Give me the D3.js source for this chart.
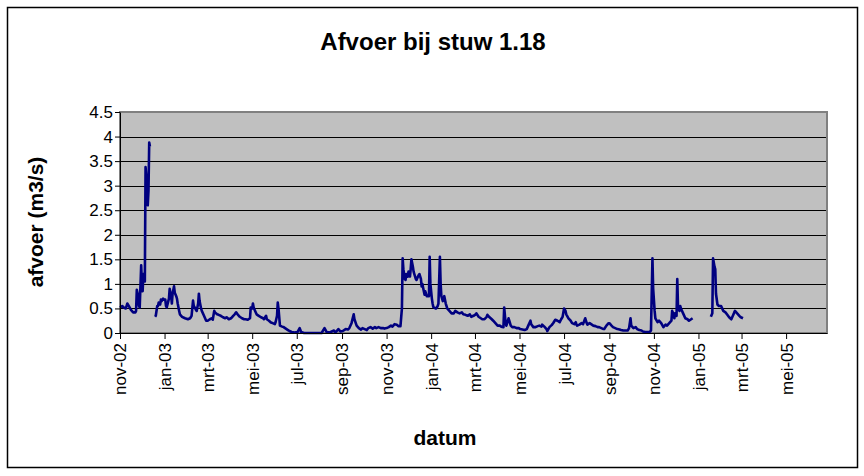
<!DOCTYPE html>
<html>
<head>
<meta charset="utf-8">
<script src="https://cdn.jsdelivr.net/npm/d3@7"></script>
<style>
  body { margin: 0; background: #fff; }
  svg text { font-family: Arial, "Liberation Sans", sans-serif; fill: #000; }
</style>
</head>
<body>
<svg id="chart" width="864" height="476"></svg>
<script>
const chartTitle = "Afvoer bij stuw 1.18";
const xTitle = "datum";
const yTitle = "afvoer (m3/s)";

const tickDates = ["2002-11-01", "2003-01-01", "2003-03-01", "2003-05-01", "2003-07-01", "2003-09-01",
  "2003-11-01", "2004-01-01", "2004-03-01", "2004-05-01", "2004-07-01", "2004-09-01",
  "2004-11-01", "2005-01-01", "2005-03-01", "2005-05-01"];
const tickLabels = ["nov-02", "jan-03", "mrt-03", "mei-03", "jul-03", "sep-03", "nov-03", "jan-04",
  "mrt-04", "mei-04", "jul-04", "sep-04", "nov-04", "jan-05", "mrt-05", "mei-05"];
const yTicks = [0, 0.5, 1, 1.5, 2, 2.5, 3, 3.5, 4, 4.5];

// meetdata, één regel per maand (null = geen meting)
const dates = [
  "2002-11-01","2002-11-04","2002-11-06","2002-11-09","2002-11-11","2002-11-13","2002-11-16","2002-11-19","2002-11-22","2002-11-23","2002-11-24","2002-11-26","2002-11-27","2002-11-28","2002-11-30",
  "2002-12-01","2002-12-02","2002-12-03","2002-12-04","2002-12-05","2002-12-06","2002-12-08","2002-12-09","2002-12-10","2002-12-11","2002-12-12","2002-12-15","2002-12-19","2002-12-20","2002-12-22","2002-12-23","2002-12-24","2002-12-26","2002-12-27","2002-12-28","2002-12-30","2002-12-31",
  "2003-01-02","2003-01-03","2003-01-04","2003-01-07","2003-01-08","2003-01-10","2003-01-11","2003-01-12","2003-01-14","2003-01-15","2003-01-17","2003-01-18","2003-01-19","2003-01-21","2003-01-22","2003-01-25","2003-01-29",
  "2003-02-02","2003-02-05","2003-02-07","2003-02-09","2003-02-10","2003-02-12","2003-02-13","2003-02-14","2003-02-16","2003-02-17","2003-02-18","2003-02-20","2003-02-21","2003-02-24","2003-02-27",
  "2003-03-01","2003-03-04","2003-03-07","2003-03-08","2003-03-10","2003-03-11","2003-03-14","2003-03-16","2003-03-19","2003-03-22","2003-03-25","2003-03-27","2003-03-30",
  "2003-04-02","2003-04-05","2003-04-07","2003-04-09","2003-04-11","2003-04-14","2003-04-17","2003-04-20","2003-04-22","2003-04-25","2003-04-28","2003-04-29",
  "2003-05-01","2003-05-02","2003-05-03","2003-05-05","2003-05-07","2003-05-10","2003-05-13","2003-05-16","2003-05-17","2003-05-20","2003-05-21","2003-05-24","2003-05-26","2003-05-29",
  "2003-06-01","2003-06-02","2003-06-04","2003-06-05","2003-06-06","2003-06-08","2003-06-11","2003-06-13","2003-06-16","2003-06-19","2003-06-21","2003-06-24","2003-06-28",
  "2003-07-02","2003-07-05","2003-07-07","2003-07-11","2003-07-19","2003-07-27",
  "2003-08-04","2003-08-08","2003-08-11","2003-08-15","2003-08-21","2003-08-23","2003-08-27","2003-08-30",
  "2003-09-02","2003-09-06","2003-09-09","2003-09-11","2003-09-14","2003-09-17","2003-09-18","2003-09-21","2003-09-24","2003-09-27","2003-09-29",
  "2003-10-02","2003-10-05","2003-10-07","2003-10-10","2003-10-13","2003-10-16","2003-10-18","2003-10-21","2003-10-24","2003-10-27","2003-10-29",
  "2003-11-01","2003-11-04","2003-11-07","2003-11-09","2003-11-12","2003-11-15","2003-11-17","2003-11-20","2003-11-22","2003-11-23","2003-11-24","2003-11-26","2003-11-27","2003-11-28","2003-11-30",
  "2003-12-01","2003-12-03","2003-12-04","2003-12-05","2003-12-07","2003-12-08","2003-12-09","2003-12-11","2003-12-12","2003-12-14","2003-12-15","2003-12-16","2003-12-18","2003-12-19","2003-12-20","2003-12-22","2003-12-23","2003-12-24","2003-12-26","2003-12-29","2003-12-30","2003-12-31",
  "2004-01-02","2004-01-03","2004-01-04","2004-01-07","2004-01-08","2004-01-10","2004-01-11","2004-01-13","2004-01-14","2004-01-15","2004-01-17","2004-01-18","2004-01-19","2004-01-21","2004-01-22","2004-01-23","2004-01-26","2004-01-29",
  "2004-02-01","2004-02-03","2004-02-06","2004-02-09","2004-02-12","2004-02-14","2004-02-17","2004-02-20","2004-02-23","2004-02-25","2004-02-28",
  "2004-03-02","2004-03-03","2004-03-06","2004-03-09","2004-03-11","2004-03-14","2004-03-17","2004-03-18","2004-03-21","2004-03-24","2004-03-26","2004-03-29",
  "2004-04-01","2004-04-04","2004-04-06","2004-04-09","2004-04-10","2004-04-12","2004-04-13","2004-04-16","2004-04-17","2004-04-19","2004-04-21","2004-04-24","2004-04-27","2004-04-30",
  "2004-05-02","2004-05-05","2004-05-08","2004-05-11","2004-05-13","2004-05-16","2004-05-17","2004-05-20","2004-05-23","2004-05-26","2004-05-28","2004-05-31",
  "2004-06-01","2004-06-04","2004-06-07","2004-06-08","2004-06-11","2004-06-14","2004-06-16","2004-06-19","2004-06-22","2004-06-25","2004-06-27","2004-06-29",
  "2004-07-01","2004-07-03","2004-07-04","2004-07-07","2004-07-10","2004-07-12","2004-07-15","2004-07-17","2004-07-18","2004-07-19","2004-07-22","2004-07-25","2004-07-27","2004-07-30",
  "2004-08-01","2004-08-02","2004-08-05","2004-08-07","2004-08-10","2004-08-13","2004-08-16","2004-08-18","2004-08-21","2004-08-24","2004-08-25","2004-08-28","2004-08-31",
  "2004-09-01","2004-09-04","2004-09-06","2004-09-09","2004-09-12","2004-09-15","2004-09-17","2004-09-20","2004-09-23","2004-09-26","2004-09-28","2004-09-30",
  "2004-10-01","2004-10-04","2004-10-07","2004-10-09","2004-10-12","2004-10-15","2004-10-17","2004-10-20","2004-10-23","2004-10-26","2004-10-28","2004-10-30","2004-10-31",
  "2004-11-02","2004-11-03","2004-11-06","2004-11-08","2004-11-11","2004-11-14","2004-11-17","2004-11-19","2004-11-22","2004-11-25","2004-11-26","2004-11-28","2004-11-29","2004-11-30",
  "2004-12-02","2004-12-03","2004-12-04","2004-12-06","2004-12-07","2004-12-08","2004-12-11","2004-12-14","2004-12-17","2004-12-19","2004-12-22","2004-12-24",
  "2005-01-05","2005-01-18","2005-01-20","2005-01-21","2005-01-23","2005-01-24","2005-01-25","2005-01-27","2005-01-29",
  "2005-02-01","2005-02-04","2005-02-07","2005-02-09","2005-02-12","2005-02-15","2005-02-18","2005-02-19","2005-02-20","2005-02-23","2005-02-26","2005-02-28",
  "2005-03-03"
];
const afvoer = [
  0.52,0.55,0.52,0.5,0.6,0.55,0.47,0.42,0.42,0.45,0.88,0.75,0.55,0.52,1.38,
  1.0,0.85,1.2,1.15,1.05,3.38,3.0,2.6,2.9,3.88,3.8,null,0.33,0.35,0.55,0.55,0.62,0.58,0.68,0.65,0.7,0.68,
  0.68,0.55,0.52,0.7,0.9,0.75,0.6,0.8,0.95,0.82,0.75,0.7,0.6,0.45,0.38,0.33,0.3,
  0.28,0.3,0.35,0.66,0.55,0.5,0.47,0.45,0.6,0.8,0.65,0.5,0.45,0.35,0.25,
  0.25,0.28,0.3,0.27,0.45,0.42,0.38,0.37,0.35,0.32,0.3,0.32,0.28,
  0.3,0.35,0.38,0.42,0.38,0.33,0.3,0.28,0.28,0.27,0.3,0.52,
  0.5,0.6,0.52,0.45,0.38,0.35,0.32,0.3,0.28,0.35,0.28,0.25,0.22,0.2,
  0.18,0.22,0.35,0.62,0.5,0.15,0.13,0.12,0.09,0.06,0.04,0.02,0.01,
  0.02,0.1,0.02,0,0,0,
  0,0.1,0.02,0.01,0.05,0.01,0.08,0.03,
  0.04,0.08,0.07,0.1,0.2,0.38,0.28,0.15,0.1,0.07,0.1,
  0.08,0.06,0.1,0.12,0.09,0.12,0.1,0.12,0.1,0.1,0.09,
  0.1,0.12,0.15,0.13,0.18,0.17,0.14,0.14,0.5,1.52,1.3,1.1,1.08,1.2,1.15,
  1.25,1.15,1.3,1.5,1.35,1.25,1.2,1.1,1.08,1.15,1.18,1.2,1.1,0.95,1.0,0.85,0.78,0.85,0.75,0.75,1.55,1.0,
  0.7,0.6,0.53,0.5,0.5,0.55,0.6,1.55,1.0,0.75,0.65,0.7,0.75,0.6,0.55,0.5,0.45,0.4,
  0.4,0.45,0.42,0.4,0.42,0.38,0.37,0.35,0.38,0.33,0.35,
  0.38,0.4,0.33,0.3,0.28,0.28,0.33,0.37,0.32,0.28,0.25,0.2,
  0.15,0.15,0.13,0.12,0.52,0.2,0.15,0.3,0.25,0.15,0.12,0.12,0.1,0.1,
  0.08,0.07,0.06,0.08,0.15,0.25,0.18,0.12,0.12,0.14,0.15,0.13,
  0.17,0.13,0.08,0.04,0.12,0.16,0.2,0.27,0.25,0.22,0.28,0.33,
  0.5,0.45,0.38,0.3,0.25,0.2,0.18,0.22,0.17,0.15,0.17,0.2,0.18,0.3,
  0.2,0.17,0.2,0.18,0.15,0.14,0.12,0.12,0.1,0.08,0.08,0.15,0.2,
  0.2,0.15,0.12,0.1,0.08,0.07,0.06,0.05,0.05,0.05,0.1,0.3,
  0.15,0.1,0.12,0.08,0.06,0.05,0.03,0.02,0.02,0.02,0.05,1.52,0.9,
  0.45,0.3,0.22,0.25,0.2,0.12,0.17,0.15,0.2,0.25,0.45,0.38,0.3,0.4,
  0.35,1.1,0.55,0.45,0.55,0.5,0.4,0.3,0.28,0.25,0.28,0.3,
  null,0.33,0.4,1.52,1.35,1.3,0.8,0.58,0.55,
  0.55,0.45,0.42,0.38,0.32,0.28,0.38,0.42,0.45,0.4,0.35,0.32,
  0.3
];

const plot = { left: 120, top: 112, right: 827, bottom: 333 };
const parse = d3.utcParse("%Y-%m-%d");
const data = dates.map((d, i) => ({ date: parse(d), v: afvoer[i] }));

const svg = d3.select("#chart");

const x = d3.scaleUtc()
  .domain([parse("2002-11-01"), parse("2005-06-26")])
  .range([plot.left, plot.right]);
const y = d3.scaleLinear().domain([0, 4.5]).range([plot.bottom, plot.top]);

// chart border
svg.append("rect")
  .attr("x", 7.5).attr("y", 7.5)
  .attr("width", 850).attr("height", 460)
  .attr("fill", "#fff").attr("stroke", "#000").attr("stroke-width", 1.5);

// plot area
svg.append("rect")
  .attr("x", plot.left).attr("y", plot.top)
  .attr("width", plot.right - plot.left).attr("height", plot.bottom - plot.top)
  .attr("fill", "#c0c0c0");

svg.append("g")
  .selectAll("line")
  .data(yTicks.filter(d => d > 0 && d < 4.5))
  .join("line")
  .attr("x1", plot.left).attr("x2", plot.right)
  .attr("y1", d => Math.round(y(d)) + 0.5).attr("y2", d => Math.round(y(d)) + 0.5)
  .attr("stroke", "#000").attr("stroke-width", 1);

svg.append("rect")
  .attr("x", plot.left).attr("y", plot.top)
  .attr("width", plot.right - plot.left).attr("height", plot.bottom - plot.top)
  .attr("fill", "none").attr("stroke", "#808080").attr("stroke-width", 2);

// line
const line = d3.line()
  .defined(d => d.v != null)
  .x(d => x(d.date))
  .y(d => y(d.v));

svg.append("path")
  .datum(data)
  .attr("d", line)
  .attr("fill", "none")
  .attr("stroke", "#000080")
  .attr("stroke-width", 2.6)
  .attr("stroke-linejoin", "round");

// axes
const yAxis = svg.append("g")
  .attr("transform", "translate(" + plot.left + ",0)")
  .call(d3.axisLeft(y).tickValues(yTicks).tickFormat(d3.format("~g"))
    .tickSizeInner(5).tickSizeOuter(0).tickPadding(2));
yAxis.selectAll("text").style("font-size", "17px");

const xAxis = svg.append("g")
  .attr("transform", "translate(0," + plot.bottom + ")")
  .call(d3.axisBottom(x)
    .tickValues(tickDates.map(parse))
    .tickFormat((d, i) => tickLabels[i])
    .tickSizeInner(6).tickSizeOuter(0));
xAxis.selectAll("text")
  .style("font-size", "17px")
  .attr("text-anchor", "end")
  .attr("transform", "rotate(-90)")
  .attr("x", -10).attr("y", 0).attr("dy", "0.35em");

svg.selectAll(".domain").attr("stroke", "#000");
svg.selectAll(".tick line").attr("stroke", "#000");

// titles
svg.append("text")
  .attr("x", 433).attr("y", 50)
  .attr("text-anchor", "middle")
  .style("font-size", "24px").style("font-weight", "bold")
  .text(chartTitle);

svg.append("text")
  .attr("transform", "translate(43,222) rotate(-90)")
  .attr("text-anchor", "middle")
  .style("font-size", "21px").style("font-weight", "bold")
  .text(yTitle);

svg.append("text")
  .attr("x", 445).attr("y", 445)
  .attr("text-anchor", "middle")
  .style("font-size", "21px").style("font-weight", "bold")
  .text(xTitle);
</script>
</body>
</html>
